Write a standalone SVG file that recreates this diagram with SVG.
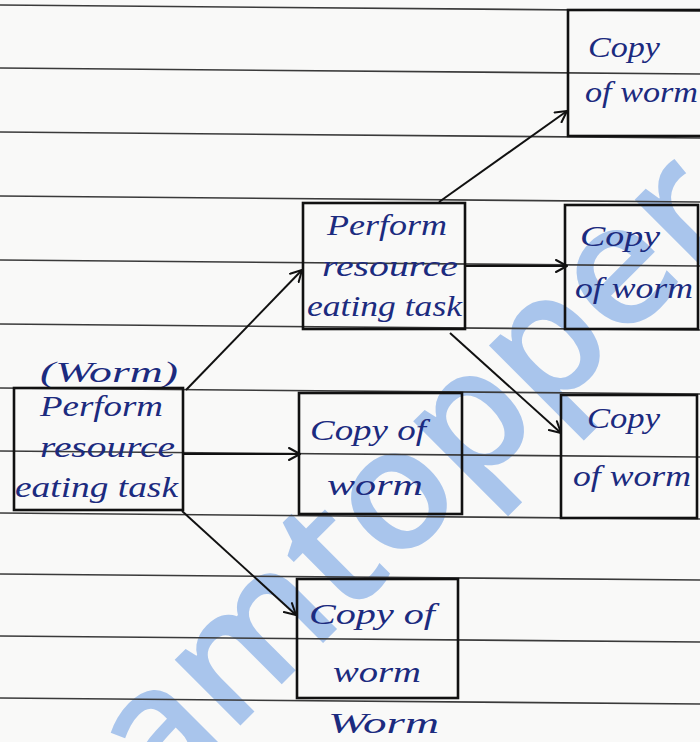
<svg xmlns="http://www.w3.org/2000/svg" width="700" height="742" viewBox="0 0 700 742">
  <defs>
    <marker id="head" viewBox="0 0 14 14" refX="12" refY="7" markerWidth="14" markerHeight="14" markerUnits="userSpaceOnUse" orient="auto">
      <path d="M1,1 L12,7 L1,13" fill="none" stroke="#111" stroke-width="2" stroke-linecap="round" stroke-linejoin="round"/>
    </marker>
    <style>
      .page { fill: #f9f9f8; }
      .rule { stroke: #3a3a3a; stroke-width: 1.6; }
      .box { fill: none; stroke: #111; stroke-width: 2.6; }
      .hand { font-family: "Liberation Serif", "DejaVu Serif", serif; font-style: italic; font-size: 30px; fill: #1c2b7f; }
      .edge { stroke: #111; stroke-width: 2; fill: none; marker-end: url(#head); }
      .mark { font-family: "Open Sans", "Liberation Sans", sans-serif; font-weight: 600; font-size: 172px; fill: #a9c5ec; }
    </style>
  </defs>

  <!-- notebook page -->
  <rect class="page" x="0" y="0" width="700" height="742"/>

  <!-- site watermark, printed under the ink -->
  <text class="mark" transform="translate(160,806) rotate(-45)">amtopper</text>

  <g id="rules">
    <line class="rule" x1="0" y1="5" x2="700" y2="11"/>
    <line class="rule" x1="0" y1="68" x2="700" y2="74"/>
    <line class="rule" x1="0" y1="132" x2="700" y2="138"/>
    <line class="rule" x1="0" y1="196" x2="700" y2="202"/>
    <line class="rule" x1="0" y1="260" x2="700" y2="266"/>
    <line class="rule" x1="0" y1="324" x2="700" y2="330"/>
    <line class="rule" x1="0" y1="388" x2="700" y2="394"/>
    <line class="rule" x1="0" y1="451" x2="700" y2="457"/>
    <line class="rule" x1="0" y1="513" x2="700" y2="519"/>
    <line class="rule" x1="0" y1="574" x2="700" y2="580"/>
    <line class="rule" x1="0" y1="636" x2="700" y2="642"/>
    <line class="rule" x1="0" y1="698" x2="700" y2="704"/>
  </g>

  <!-- original worm -->
  <g id="worm">
    <text class="hand" x="40" y="382" textLength="138" lengthAdjust="spacingAndGlyphs">(Worm)</text>
    <rect class="box" x="14" y="388" width="169" height="122"/>
    <text class="hand" x="40" y="416" textLength="123" lengthAdjust="spacingAndGlyphs">Perform</text>
    <text class="hand" x="40" y="457" textLength="135" lengthAdjust="spacingAndGlyphs">resource</text>
    <text class="hand" x="15" y="497" textLength="163" lengthAdjust="spacingAndGlyphs">eating task</text>
  </g>

  <!-- copy that performs the task again -->
  <g id="task">
    <rect class="box" x="303" y="203" width="162" height="126"/>
    <text class="hand" x="327" y="235" textLength="120" lengthAdjust="spacingAndGlyphs">Perform</text>
    <text class="hand" x="322" y="276" textLength="136" lengthAdjust="spacingAndGlyphs">resource</text>
    <text class="hand" x="307" y="316" textLength="155" lengthAdjust="spacingAndGlyphs">eating task</text>
  </g>

  <g id="copy-top">
    <rect class="box" x="568" y="10" width="140" height="126"/>
    <text class="hand" x="588" y="57" textLength="72" lengthAdjust="spacingAndGlyphs">Copy</text>
    <text class="hand" x="585" y="102" textLength="113" lengthAdjust="spacingAndGlyphs">of worm</text>
  </g>

  <g id="copy-mid">
    <rect class="box" x="565" y="205" width="133" height="124"/>
    <text class="hand" x="580" y="246" textLength="80" lengthAdjust="spacingAndGlyphs">Copy</text>
    <text class="hand" x="575" y="298" textLength="118" lengthAdjust="spacingAndGlyphs">of worm</text>
  </g>

  <g id="copy-low">
    <rect class="box" x="561" y="395" width="136" height="123"/>
    <text class="hand" x="587" y="428" textLength="73" lengthAdjust="spacingAndGlyphs">Copy</text>
    <text class="hand" x="573" y="486" textLength="118" lengthAdjust="spacingAndGlyphs">of worm</text>
  </g>

  <g id="copy-center">
    <rect class="box" x="299" y="393" width="163" height="121"/>
    <text class="hand" x="310" y="440" textLength="116" lengthAdjust="spacingAndGlyphs">Copy of</text>
    <text class="hand" x="327" y="495" textLength="96" lengthAdjust="spacingAndGlyphs">worm</text>
  </g>

  <g id="copy-bottom">
    <rect class="box" x="297" y="579" width="161" height="119"/>
    <text class="hand" x="309" y="624" textLength="126" lengthAdjust="spacingAndGlyphs">Copy of</text>
    <text class="hand" x="333" y="682" textLength="88" lengthAdjust="spacingAndGlyphs">worm</text>
    <text class="hand" x="328" y="733" textLength="111" lengthAdjust="spacingAndGlyphs">Worm</text>
  </g>

  <!-- spreading arrows -->
  <g id="connectors">
    <line class="edge" x1="186" y1="390" x2="302" y2="270"/>
    <line class="edge" x1="183" y1="454" x2="300" y2="454"/>
    <line class="edge" x1="182" y1="511" x2="296" y2="615"/>
    <line class="edge" x1="439" y1="202" x2="567" y2="111"/>
    <line class="edge" x1="465" y1="266" x2="567" y2="266"/>
    <line class="edge" x1="450" y1="333" x2="561" y2="433"/>
  </g>
</svg>
